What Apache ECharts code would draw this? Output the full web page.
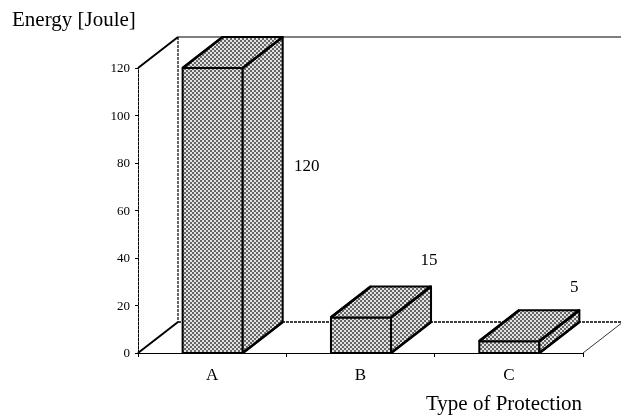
<!DOCTYPE html>
<html><head><meta charset="utf-8">
<style>html,body{margin:0;padding:0;background:#fff}#c{width:621px;height:415px}</style>
<script src="https://cdn.jsdelivr.net/npm/echarts@6/dist/echarts.min.js"></script>
</head><body><div id="c"></div>
<script>
var categories = ['A', 'B', 'C'];
var energies = [120, 15, 5];
var yTicks = { min: 0, max: 120, interval: 20 };
var yTitle = 'Energy [Joule]';
var xTitle = 'Type of Protection';

// Oblique projection of the pseudo-3D box (pixels)
var DX = 40, DY = -31, BAR_RATIO = 0.405;
var FONT = '"Liberation Serif", serif';

// Stippled halftone fill
var tile = document.createElement('canvas');
tile.width = 4; tile.height = 4;
var t = tile.getContext('2d');
t.fillStyle = '#e2e2e2'; t.fillRect(0, 0, 4, 4);
t.fillStyle = '#666';
t.fillRect(0, 0, 2, 2);
t.fillRect(2, 2, 2, 2);
var stipple = { image: tile, repeat: 'repeat' };

function poly(points, lw) {
  return { type: 'polygon', shape: { points: points },
    style: { fill: stipple, stroke: '#000', lineWidth: lw, lineJoin: 'round' } };
}
function seg(x1, y1, x2, y2, lw, dash) {
  return { type: 'line', shape: { x1: x1, y1: y1, x2: x2, y2: y2 },
    style: { stroke: '#000', lineWidth: lw, lineDash: dash || null } };
}

function renderWalls(params, api) {
  var cs = params.coordSys;
  var L = cs.x, R = cs.x + cs.width, B = cs.y + cs.height, T = cs.y;
  return { type: 'group', children: [
    seg(L, T, L + DX, T + DY, 2),
    seg(L, B, L + DX, B + DY, 2),
    seg(L + DX, T + DY, R + DX, T + DY, 1.2),
    seg(L + DX, T + DY, L + DX, B + DY, 1.2, [3, 1]),
    seg(L + DX, B + DY, R + DX, B + DY, 1.4, [3, 1]),
    seg(R, B, R + DX, B + DY, 0.8)
  ] };
}

// label placement differs per bar in the reference
function labelAnchor(i, x1, top, base) {
  if (i === 0) return [x1 + DX + 24, top + 99];
  if (i === 1) return [x1 + DX - 2, top + DY - 26];
  return [x1 + DX - 5, top + DY - 23];
}

function renderBar(params, api) {
  var i = params.dataIndex;
  var val = api.value(1);
  var c = api.coord([api.value(0), val]);
  var base = api.coord([api.value(0), 0])[1];
  var w = api.size([1, 0])[0] * BAR_RATIO;
  var x0 = c[0] - w / 2 + 0.5, x1 = c[0] + w / 2 + 0.5, top = c[1];
  var a = labelAnchor(i, x1, top, base);
  return { type: 'group', children: [
    poly([[x0, base], [x1, base], [x1, top], [x0, top]], 2),
    poly([[x1, base], [x1 + DX, base + DY], [x1 + DX, top + DY], [x1, top]], 2),
    poly([[x0, top], [x0 + DX, top + DY], [x1 + DX, top + DY], [x1, top]], 2),
    seg(x1, base, x1 + DX, base + DY, 2.6),
    seg(x0, top, x0 + DX, top + DY, 2.6),
    seg(x1, top, x1 + DX, top + DY, 2.6),
    { type: 'text', x: a[0], y: a[1],
      style: { text: String(val), fill: '#000', font: '17px ' + FONT, align: 'center', verticalAlign: 'middle' } }
  ] };
}

var chart = echarts.init(document.getElementById('c'), null, { renderer: 'canvas' });
chart.setOption({
  animation: false,
  backgroundColor: '#fff',
  grid: { left: 138, top: 68, width: 445, height: 285, containLabel: false },
  xAxis: {
    type: 'category', data: categories,
    name: xTitle, nameLocation: 'end', nameGap: -1,
    nameTextStyle: { fontFamily: FONT, fontSize: 21, color: '#000', align: 'right', verticalAlign: 'top', padding: [41, 0, 0, 0] },
    axisLine: { lineStyle: { color: '#000', width: 1 } },
    axisTick: { show: true, length: 4, lineStyle: { color: '#000' } },
    axisLabel: { fontFamily: FONT, fontSize: 17, color: '#000', margin: 14 },
    splitLine: { show: false }
  },
  yAxis: {
    type: 'value', min: yTicks.min, max: yTicks.max, interval: yTicks.interval,
    name: yTitle, nameLocation: 'end', nameGap: 48,
    nameTextStyle: { fontFamily: FONT, fontSize: 21, color: '#000', align: 'left', verticalAlign: 'middle', padding: [0, 0, 0, -126] },
    axisLine: { show: true, lineStyle: { color: '#000', width: 1, type: [3, 1] } },
    axisTick: { show: true, length: 3, lineStyle: { color: '#000' } },
    axisLabel: { fontFamily: FONT, fontSize: 13, color: '#000', margin: 8, verticalAlign: 'top', lineHeight: 14, padding: [-6, 0, 0, 0] },
    splitLine: { show: false }
  },
  series: [
    { type: 'custom', name: 'walls', z: 1, silent: true, clip: false,
      renderItem: renderWalls, data: [[0, 0]], encode: { x: 0, y: 1 } },
    { type: 'custom', name: 'Energy', z: 2, silent: true, clip: false,
      renderItem: renderBar,
      data: energies.map(function (v, i) { return [i, v]; }), encode: { x: 0, y: 1 } }
  ]
});
</script></body></html>
